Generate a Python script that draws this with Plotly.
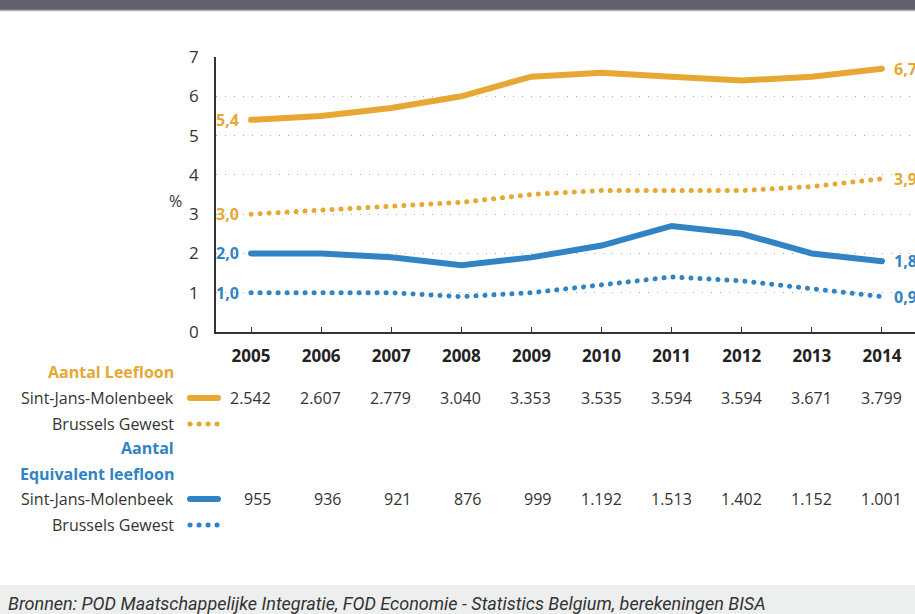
import plotly.graph_objects as go

# ─── Data ─────────────────────────────────────────────────────────────────────
years = [2005, 2006, 2007, 2008, 2009, 2010, 2011, 2012, 2013, 2014]

leefloon_molenbeek_pct = [5.4, 5.5, 5.7, 6.0, 6.5, 6.6, 6.5, 6.4, 6.5, 6.7]
leefloon_brussel_pct = [3.0, 3.1, 3.2, 3.3, 3.5, 3.6, 3.6, 3.6, 3.7, 3.9]
equiv_molenbeek_pct = [2.0, 2.0, 1.9, 1.7, 1.9, 2.2, 2.7, 2.5, 2.0, 1.8]
equiv_brussel_pct = [1.0, 1.0, 1.0, 0.9, 1.0, 1.2, 1.4, 1.3, 1.1, 0.9]

leefloon_molenbeek_n = ["2.542", "2.607", "2.779", "3.040", "3.353",
                        "3.535", "3.594", "3.594", "3.671", "3.799"]
equiv_molenbeek_n = ["955", "936", "921", "876", "999",
                     "1.192", "1.513", "1.402", "1.152", "1.001"]

y_ticks = [0, 1, 2, 3, 4, 5, 6, 7]

GOLD = "#E6A832"
BLUE = "#3183C3"
TEXT = "#333333"
FONT = "Open Sans, DejaVu Sans, sans-serif"

W, H = 915, 614
L, R, T, B = 216, 0, 57, 282
PW, PH = W - L - R, H - T - B


def px(x):
    """pixel x -> paper x"""
    return (x - L) / PW


def py(y):
    """pixel y -> paper y"""
    return (H - B - y) / PH


fig = go.Figure()

series = [
    (leefloon_molenbeek_pct, GOLD, "solid"),
    (leefloon_brussel_pct, GOLD, "4px,5px"),
    (equiv_molenbeek_pct, BLUE, "solid"),
    (equiv_brussel_pct, BLUE, "4px,5px"),
]
for vals, col, dash in series:
    fig.add_trace(go.Scatter(
        x=years, y=vals, mode="lines",
        line=dict(color=col, width=6 if dash == "solid" else 5, dash=dash),
        hoverinfo="skip", showlegend=False,
    ))

annotations = []

# start / end value labels
for vals, col, _ in series:
    annotations.append(dict(
        x=years[0], y=vals[0], xref="x", yref="y", text=f"{vals[0]:.1f}".replace(".", ","),
        xanchor="right", yanchor="middle", xshift=-10, showarrow=False,
        font=dict(family=FONT, size=16, color=col, weight=700),
    ))
    annotations.append(dict(
        x=years[-1], y=vals[-1], xref="x", yref="y", text=f"{vals[-1]:.1f}".replace(".", ","),
        xanchor="left", yanchor="middle", xshift=10, showarrow=False,
        font=dict(family=FONT, size=16, color=col, weight=700),
    ))

annotations.append(dict(
    x=px(167), y=py(201), xref="paper", yref="paper", text="%",
    showarrow=False, font=dict(family=FONT, size=16, color=TEXT),
))

# table under the chart
row_labels = [
    ("Aantal Leefloon", 372, GOLD, True),
    ("Sint-Jans-Molenbeek", 398, TEXT, False),
    ("Brussels Gewest", 424, TEXT, False),
    ("Aantal", 448, BLUE, True),
    ("Equivalent leefloon", 474, BLUE, True),
    ("Sint-Jans-Molenbeek", 499, TEXT, False),
    ("Brussels Gewest", 525, TEXT, False),
]
for txt, ypix, col, bold in row_labels:
    annotations.append(dict(
        x=px(176), y=py(ypix), xref="paper", yref="paper", text=txt,
        xanchor="right", yanchor="middle", showarrow=False,
        font=dict(family=FONT, size=16, color=col, weight=700 if bold else 400),
    ))

for nums, ypix in [(leefloon_molenbeek_n, 398), (equiv_molenbeek_n, 499)]:
    for yr, n in zip(years, nums):
        annotations.append(dict(
            x=yr, y=py(ypix), xref="x", yref="paper", text=n,
            xanchor="right", yanchor="middle", xshift=22, showarrow=False,
            font=dict(family=FONT, size=16, color=TEXT),
        ))

annotations.append(dict(
    x=px(6), y=py(603), xref="paper", yref="paper",
    text="<i>Bronnen: POD Maatschappelijke Integratie, FOD Economie - Statistics Belgium, berekeningen BISA</i>",
    xanchor="left", yanchor="middle", showarrow=False,
    font=dict(family="Liberation Sans Narrow, Roboto, sans-serif", size=18, color=TEXT),
))

shapes = [
    # header band
    dict(type="rect", xref="paper", yref="paper", x0=px(0), x1=px(W), y0=py(10), y1=py(-2),
         fillcolor="#625F6E", line=dict(width=0), layer="above"),
    dict(type="line", xref="paper", yref="paper", x0=px(0), x1=px(W), y0=py(10.5), y1=py(10.5),
         line=dict(color="#B4B3BC", width=1.5)),
    # footer band
    dict(type="rect", xref="paper", yref="paper", x0=px(0), x1=px(W), y0=py(616), y1=py(585),
         fillcolor="#EDEEEE", line=dict(width=0), layer="below"),
]
# legend samples in table
for ypix, col, dash in [(398, GOLD, "solid"), (424, GOLD, "dot"), (499, BLUE, "solid"), (525, BLUE, "dot")]:
    if dash == "solid":
        shapes.append(dict(type="line", xref="paper", yref="paper", x0=px(190), x1=px(218),
                           y0=py(ypix), y1=py(ypix), line=dict(color=col, width=6)))
    else:
        shapes.append(dict(type="line", xref="paper", yref="paper", x0=px(190), x1=px(218),
                           y0=py(ypix), y1=py(ypix), line=dict(color=col, width=5, dash="4px,5px")))

fig.update_layout(
    width=W, height=H,
    margin=dict(l=L, r=R, t=T, b=B),
    paper_bgcolor="white", plot_bgcolor="white",
    font=dict(family=FONT, color=TEXT),
    showlegend=False,
    annotations=annotations,
    shapes=shapes,
    xaxis=dict(
        range=[2004.5, 2004.5 + PW / 70.1], tickvals=years, ticktext=[str(y) for y in years],
        showgrid=False, zeroline=False,
        showline=True, linecolor=TEXT, linewidth=1.5,
        ticks="inside", ticklen=5, tickcolor=TEXT, tickwidth=1,
        tickfont=dict(family=FONT, size=17, color="#222222", weight=700),
        ticklabelstandoff=8,
    ),
    yaxis=dict(
        range=[0, 7], tickvals=y_ticks,
        showgrid=True, gridcolor="#AAAAAA", griddash="1px,8px", gridwidth=1,
        zeroline=False, showline=True, linecolor=TEXT, linewidth=1.5,
        ticks="", tickfont=dict(family=FONT, size=17, color=TEXT),
        ticklabelstandoff=12,
    ),
)

post = """
document.body.style.margin = '0';
var gd = document.getElementById('{plot_id}');
gd.querySelectorAll('path').forEach(function(p){
  var d = p.style.strokeDasharray;
  var s = p.style.strokeWidth;
  if (d && d.indexOf('4px') >= 0 && parseFloat(s) >= 4) {
    p.style.strokeLinecap = 'round';
    p.style.strokeDasharray = '0.1px,8.9px';
  } else if (parseFloat(s) >= 6) {
    p.style.strokeLinecap = 'round';
  }
});
"""

fig.write_html("out.html", post_script=post, config={"displayModeBar": False})
